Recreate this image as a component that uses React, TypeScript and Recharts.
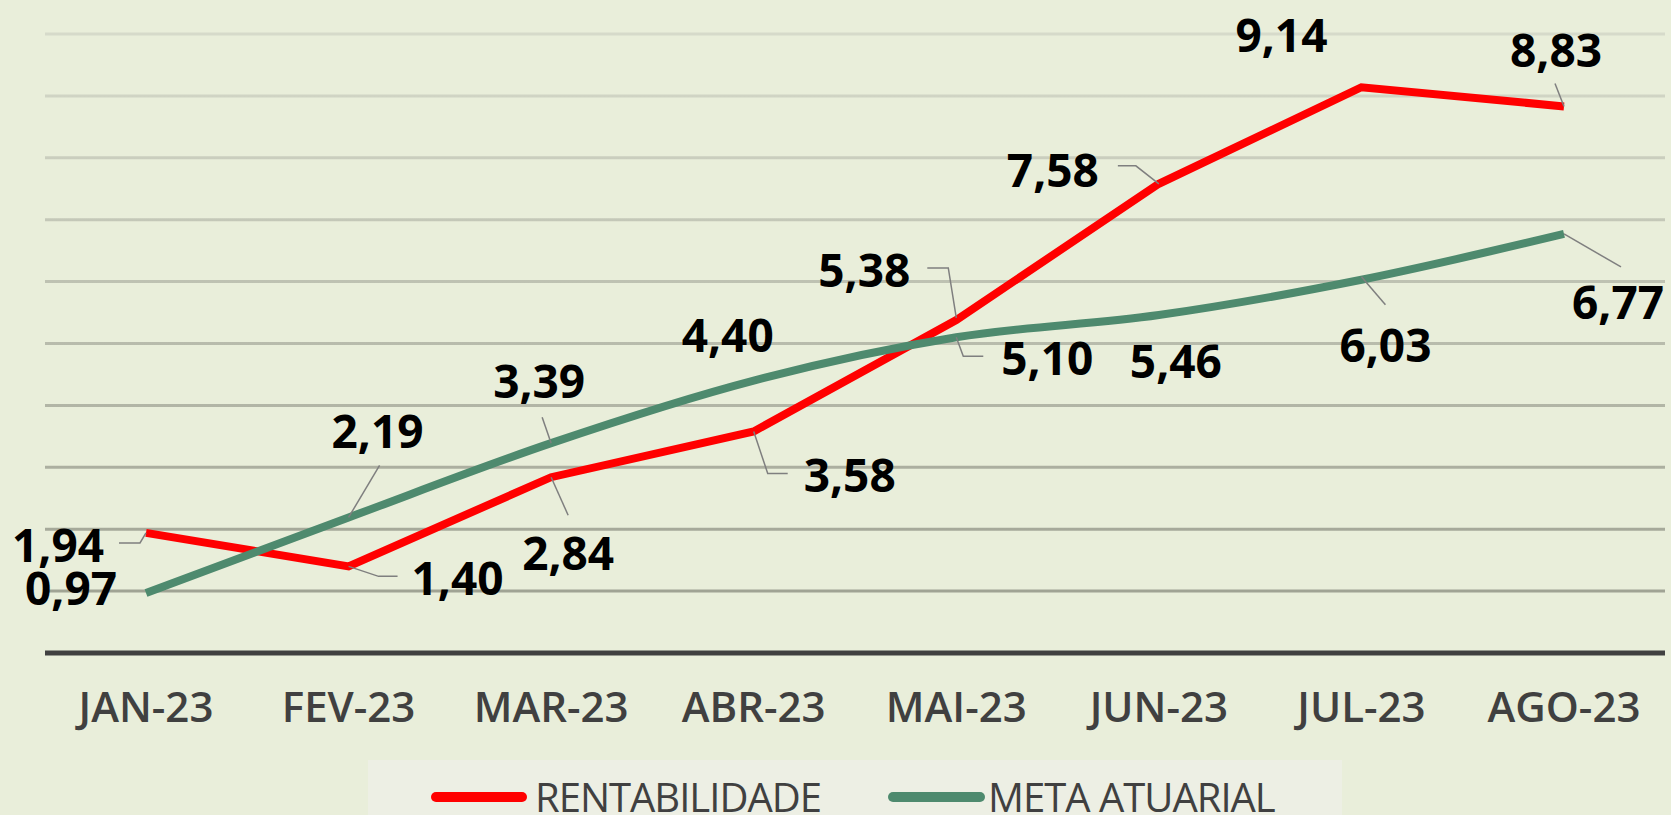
import { CartesianGrid, LabelList, Line, LineChart, XAxis, YAxis } from 'recharts';

const months = ['JAN-23', 'FEV-23', 'MAR-23', 'ABR-23', 'MAI-23', 'JUN-23', 'JUL-23', 'AGO-23'];
const rentabilidade = [1.94, 1.4, 2.84, 3.58, 5.38, 7.58, 9.14, 8.83];
const metaAtuarial = [0.97, 2.19, 3.39, 4.4, 5.1, 5.46, 6.03, 6.77];
const yTicks = [0, 1, 2, 3, 4, 5, 6, 7, 8, 9, 10];

// label placement (offset of label centre from the point) and leader polylines, in px
type Place = { dx: number; dy: number; leader?: number[][] };
const redPlaces: Place[] = [
  { dx: -88, dy: 12, leader: [[0, 0], [-6, 10], [-27, 10]] },
  { dx: 109, dy: 12, leader: [[0, 0], [30, 10], [49, 10]] },
  { dx: 17, dy: 76, leader: [[0, 0], [17, 38]] },
  { dx: 96, dy: 44, leader: [[0, 0], [14, 42], [34, 42]] },
  { dx: -92, dy: -50, leader: [[0, -2], [-8, -52], [-29, -52]] },
  { dx: -106, dy: -14, leader: [[0, 0], [-23, -18], [-41, -18]] },
  { dx: -80, dy: -52 },
  { dx: -8, dy: -56, leader: [[0, 0], [-9, -23]] },
];
const greenPlaces: Place[] = [
  { dx: -75, dy: -5 },
  { dx: 29, dy: -86, leader: [[0, 0], [31, -52]] },
  { dx: -12, dy: -62, leader: [[0, 0], [-9, -26]] },
  { dx: -26, dy: -46 },
  { dx: 91, dy: 21, leader: [[0, 0], [7, 19], [27, 19]] },
  { dx: 17, dy: 46 },
  { dx: 24, dy: 65, leader: [[0, -3], [24, 25]] },
  { dx: 54, dy: 68, leader: [[0, 0], [57, 33]] },
];

const RED = '#FF0000';
const GREEN = '#4E8A6E';
const BG = '#E9EEDA';
const FONT = '"Open Sans", "DejaVu Sans", sans-serif';

const data = months.map((m, i) => ({
  month: m,
  rent: rentabilidade[i],
  meta: metaAtuarial[i],
}));

function makeLabel(places: Place[]) {
  return (props: any) => {
    const { x, y, index, value } = props;
    const p = places[index];
    if (!p) return null;
    const txt = Number(value).toFixed(2).replace('.', ',');
    return (
      <g>
        {p.leader && (
          <polyline
            points={p.leader.map(([a, b]) => `${x + a},${y + b}`).join(' ')}
            fill="none"
            stroke="#7f7f7f"
            strokeWidth={1.5}
          />
        )}
        <text
          x={x + p.dx}
          y={y + p.dy + 17}
          textAnchor="middle"
          fontFamily={FONT}
          fontSize={46}
          fontWeight={700}
          fill="#000"
        >
          {txt}
        </text>
      </g>
    );
  };
}

function Legend() {
  return (
    <div
      style={{
        position: 'absolute',
        left: 368,
        top: 760,
        width: 974,
        height: 55,
        background: '#EDEFE4',
        overflow: 'hidden',
      }}
    >
      <svg width={974} height={55}>
        <line x1={68} y1={37} x2={154} y2={37} stroke={RED} strokeWidth={10} strokeLinecap="round" />
        <text x={167} y={52} fontFamily={FONT} fontSize={40} letterSpacing={-1} fill="#404040">
          RENTABILIDADE
        </text>
        <line x1={525} y1={37} x2={612} y2={37} stroke={GREEN} strokeWidth={10} strokeLinecap="round" />
        <text x={620} y={52} fontFamily={FONT} fontSize={40} letterSpacing={-1} fill="#404040">
          META ATUARIAL
        </text>
      </svg>
    </div>
  );
}

export default function App() {
  return (
    <div
      style={{
        position: 'absolute',
        left: 0,
        top: 0,
        width: 1671,
        height: 815,
        background: BG,
        overflow: 'hidden',
      }}
    >
      <LineChart
        width={1671}
        height={815}
        data={data}
        margin={{ top: 34, right: 6, left: 45, bottom: 0 }}
      >
        <defs>
          <linearGradient id="gridFade" x1="0" y1="34" x2="0" y2="600" gradientUnits="userSpaceOnUse">
            <stop offset="0%" stopColor="#D6DACA" />
            <stop offset="100%" stopColor="#9FA293" />
          </linearGradient>
        </defs>
        <CartesianGrid vertical={false} stroke="url(#gridFade)" strokeWidth={3} />
        <XAxis
          dataKey="month"
          height={162}
          padding={{ left: 101, right: 101 }}
          axisLine={{ stroke: '#404040', strokeWidth: 5 }}
          tickLine={false}
          tickMargin={33}
          interval={0}
          tick={{ fill: '#404040', fontSize: 42, fontWeight: 600, fontFamily: FONT }}
        />
        <YAxis hide domain={[0, 10]} ticks={yTicks} width={0} />
        <Line
          type="linear"
          dataKey="rent"
          stroke={RED}
          strokeWidth={8}
          dot={false}
          isAnimationActive={false}
        >
          <LabelList dataKey="rent" content={makeLabel(redPlaces)} />
        </Line>
        <Line
          type="monotone"
          dataKey="meta"
          stroke={GREEN}
          strokeWidth={8}
          dot={false}
          isAnimationActive={false}
        >
          <LabelList dataKey="meta" content={makeLabel(greenPlaces)} />
        </Line>
      </LineChart>
      <Legend />
    </div>
  );
}
